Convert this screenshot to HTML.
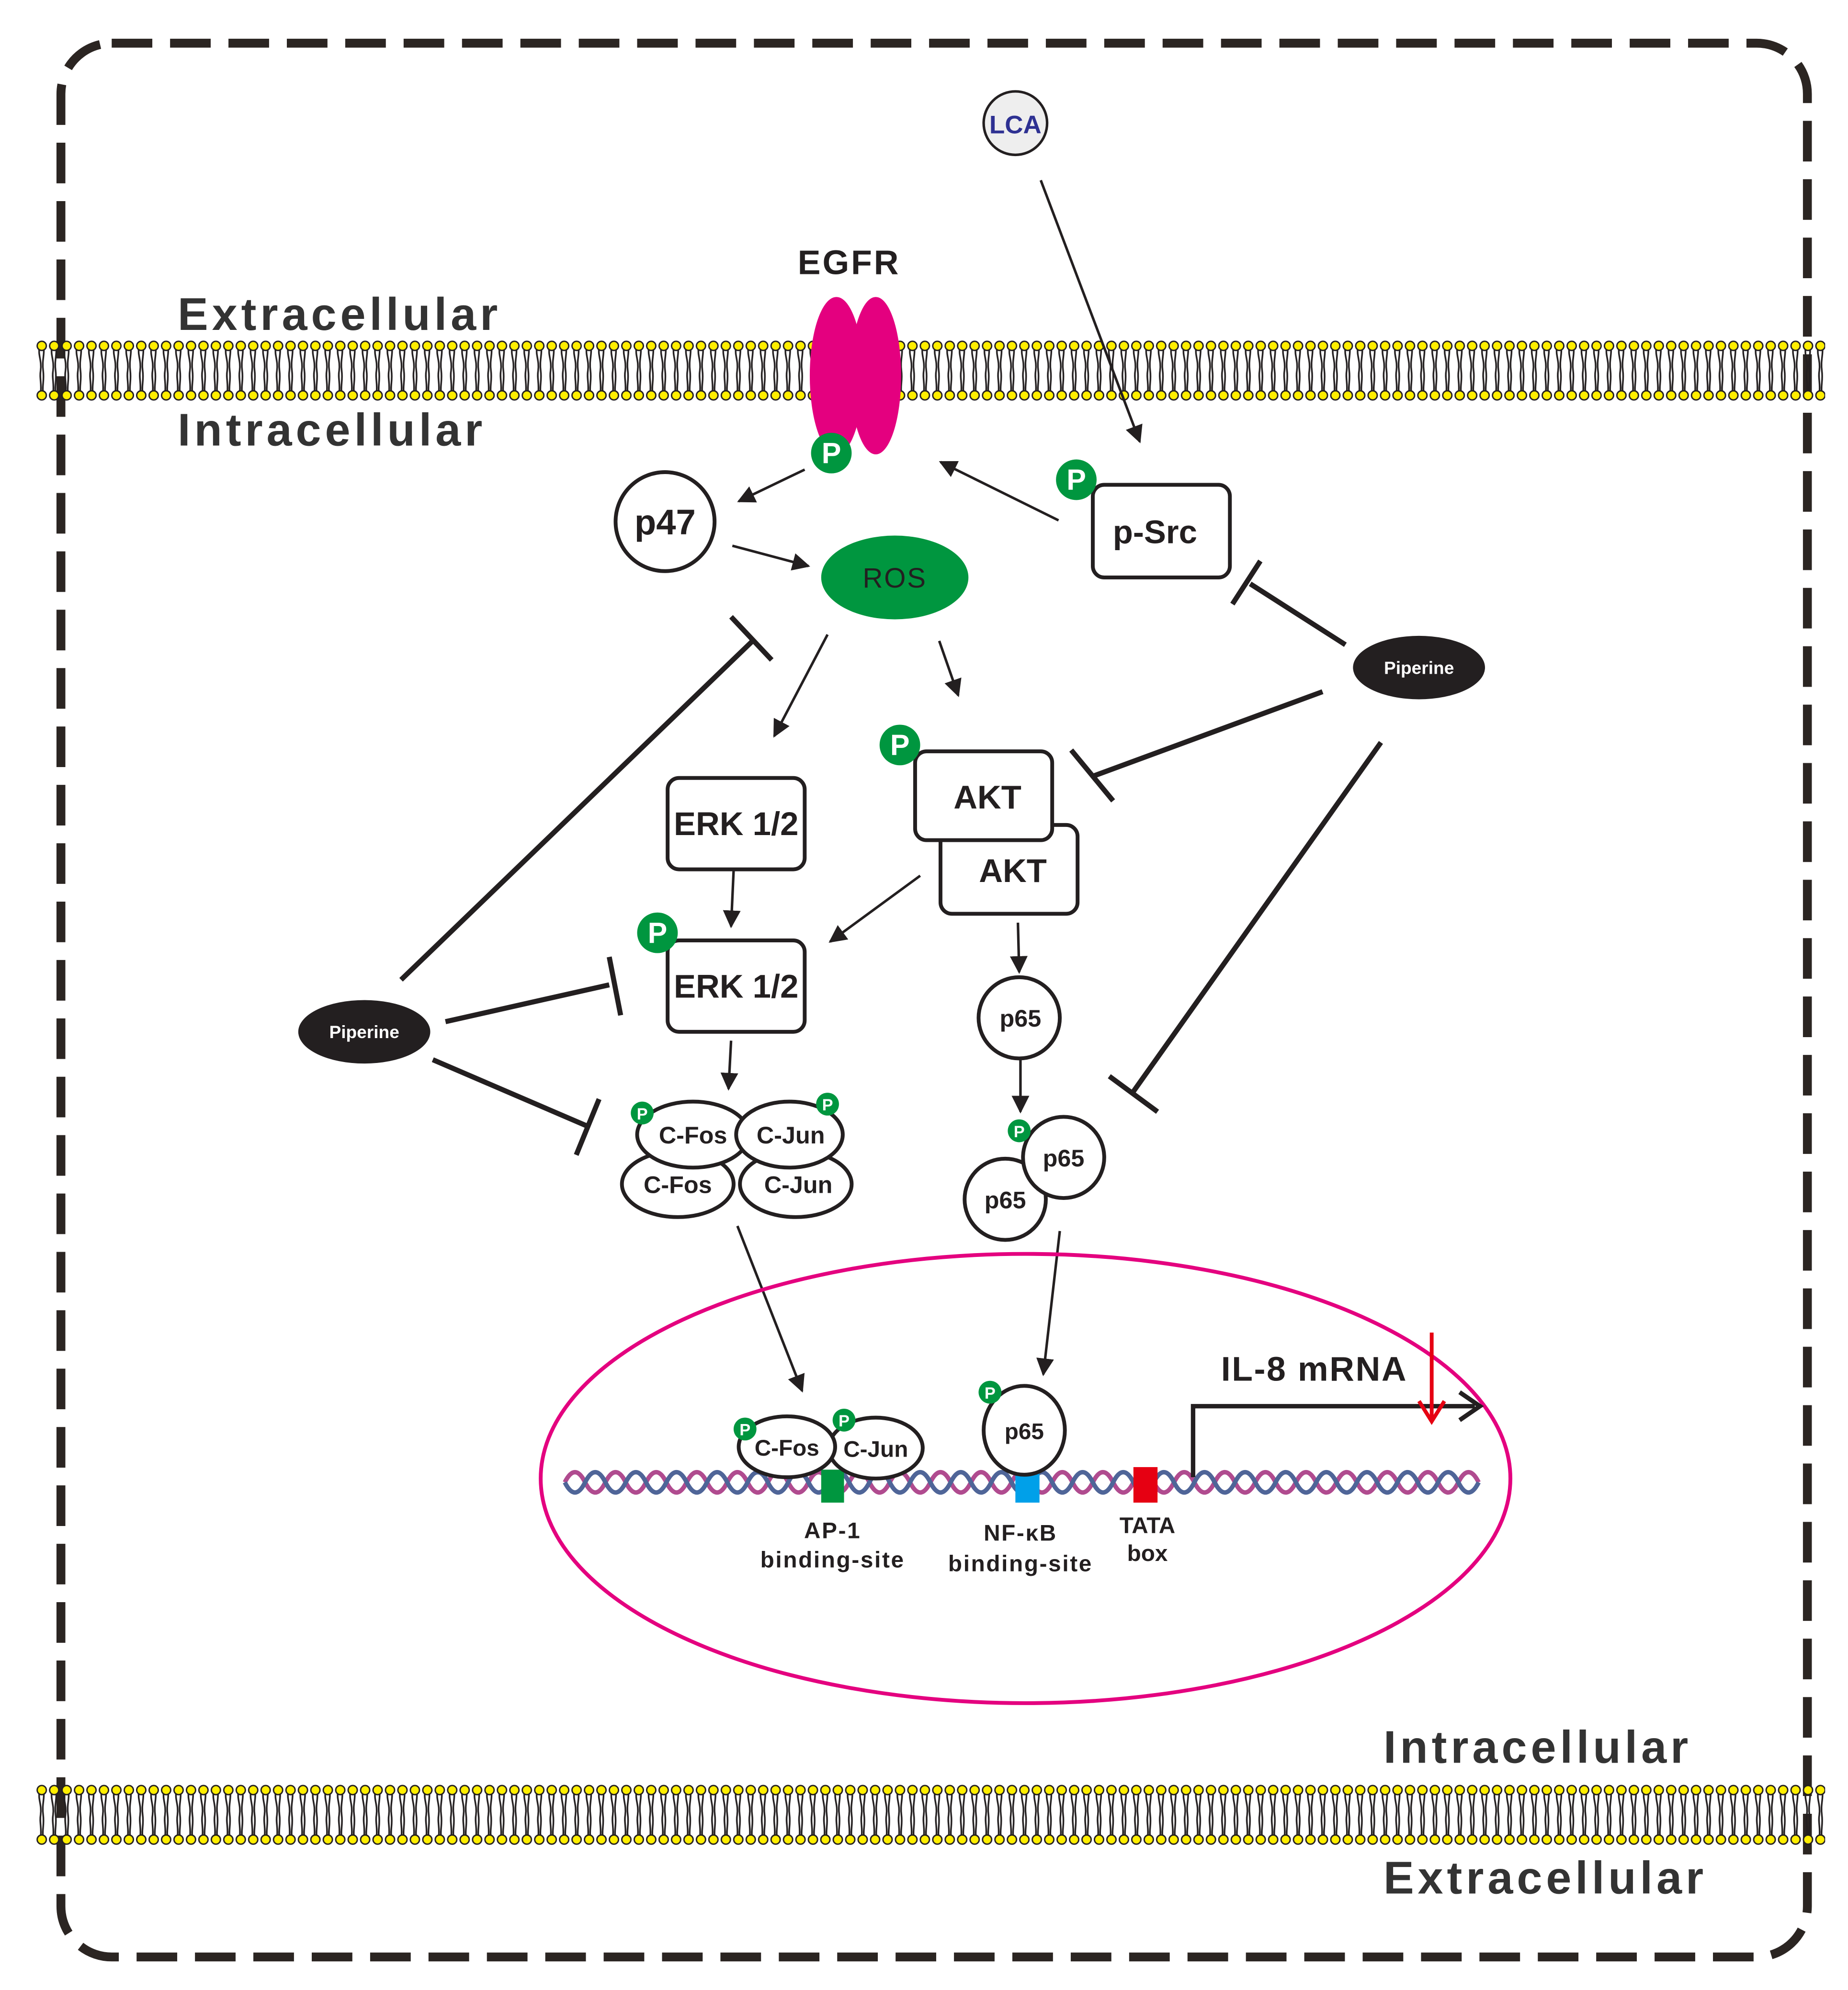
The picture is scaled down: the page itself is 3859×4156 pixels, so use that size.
<!DOCTYPE html>
<html><head><meta charset="utf-8"><style>
html,body{margin:0;padding:0;background:#fff}
svg{display:block}
text{font-family:"Liberation Sans",sans-serif}
</style></head><body>
<svg width="3859" height="4156" viewBox="0 0 1456 1568" xmlns="http://www.w3.org/2000/svg">
<defs>
<marker id="ah" viewBox="0 0 10 10" refX="9" refY="5" markerWidth="7" markerHeight="7" orient="auto"><path d="M0,0 L10,5 L0,10 z" fill="#231f20"/></marker>
<pattern id="memTop" x="28" y="262" width="9.8" height="60" patternUnits="userSpaceOnUse">
<path d="M3,12 C2,18 5,22 4,30 M6.5,12 C7,18 5,22 6,30 M4,30 C3,36 5,40 4,48 M6,30 C7,38 5,42 6,48" stroke="#231f20" stroke-width="1.3" fill="none"/>
<circle cx="4.9" cy="10.5" r="3.6" fill="#ffee00" stroke="#231f20" stroke-width="1.1"/>
<circle cx="4.9" cy="49.5" r="3.6" fill="#ffee00" stroke="#231f20" stroke-width="1.1"/>
</pattern>
<pattern id="memBot" x="28" y="1400" width="9.8" height="60" patternUnits="userSpaceOnUse">
<path d="M3,12 C2,18 5,22 4,30 M6.5,12 C7,18 5,22 6,30 M4,30 C3,36 5,40 4,48 M6,30 C7,38 5,42 6,48" stroke="#231f20" stroke-width="1.3" fill="none"/>
<circle cx="4.9" cy="10.5" r="3.6" fill="#ffee00" stroke="#231f20" stroke-width="1.1"/>
<circle cx="4.9" cy="49.5" r="3.6" fill="#ffee00" stroke="#231f20" stroke-width="1.1"/>
</pattern>
<g id="P"><circle r="16" fill="#00963f"/><text y="8" text-anchor="middle" font-size="23" font-weight="bold" fill="#fff">P</text></g>
<g id="Ps"><circle r="9" fill="#00963f"/><text y="5" text-anchor="middle" font-size="13" font-weight="bold" fill="#fff">P</text></g>
</defs>

<rect x="48" y="34" width="1376" height="1508" rx="40" fill="none" stroke="#2b2522" stroke-width="7" stroke-dasharray="32 14"/>

<rect x="28" y="262" width="1410" height="60" fill="url(#memTop)"/>
<rect x="28" y="1400" width="1410" height="60" fill="url(#memBot)"/>

<g font-weight="bold" fill="#333" font-size="36" letter-spacing="3">
<text x="140" y="260">Extracellular</text>
<text x="140" y="351">Intracellular</text>
<text x="1090" y="1389">Intracellular</text>
<text x="1090" y="1492">Extracellular</text>
</g>

<text x="669" y="216" text-anchor="middle" font-size="27" font-weight="bold" fill="#231f20" letter-spacing="1.5">EGFR</text>
<ellipse cx="659" cy="296" rx="21" ry="62" fill="#e4007f"/>
<ellipse cx="690" cy="296" rx="20" ry="62" fill="#e4007f"/>
<use href="#P" x="655" y="357"/>

<circle cx="800" cy="97" r="25" fill="#eeeeee" stroke="#231f20" stroke-width="2"/>
<text x="800" y="105" text-anchor="middle" font-size="20" font-weight="bold" fill="#2e3192">LCA</text>
<line x1="820" y1="142" x2="898" y2="348" stroke="#231f20" stroke-width="2" marker-end="url(#ah)"/>

<g stroke="#231f20" fill="none" stroke-width="3">
<circle cx="524" cy="411" r="39"/>
<rect x="861" y="382" width="108" height="73" rx="9"/>
<rect x="526" y="613" width="108" height="72" rx="9"/>
<rect x="526" y="741" width="108" height="72" rx="9"/>
<rect x="741" y="650" width="108" height="70" rx="9" fill="#fff"/>
<rect x="721" y="592" width="108" height="70" rx="9" fill="#fff"/>
<circle cx="803" cy="802" r="32"/>
<circle cx="792" cy="945" r="32" fill="#fff"/>
<circle cx="838" cy="912" r="32" fill="#fff"/>
<ellipse cx="627" cy="933" rx="44" ry="26" fill="#fff"/>
<ellipse cx="534" cy="933" rx="44" ry="26" fill="#fff"/>
<ellipse cx="546" cy="894" rx="44" ry="26" fill="#fff"/>
<ellipse cx="622" cy="894" rx="42" ry="26" fill="#fff"/>
</g>
<g font-weight="bold" fill="#231f20" text-anchor="middle">
<text x="524" y="421" font-size="28">p47</text>
<text x="910" y="428" font-size="26">p-Src</text>
<text x="580" y="658" font-size="26">ERK 1/2</text>
<text x="580" y="786" font-size="26">ERK 1/2</text>
<text x="798" y="695" font-size="26">AKT</text>
<text x="778" y="637" font-size="26">AKT</text>
<text x="804" y="809" font-size="19">p65</text>
<text x="792" y="952" font-size="19">p65</text>
<text x="838" y="919" font-size="19">p65</text>
<text x="546" y="901" font-size="19">C-Fos</text>
<text x="623" y="901" font-size="19">C-Jun</text>
<text x="534" y="940" font-size="19">C-Fos</text>
<text x="629" y="940" font-size="19">C-Jun</text>
</g>
<use href="#P" x="848" y="378"/>
<use href="#P" x="709" y="587"/>
<use href="#P" x="518" y="735"/>
<use href="#Ps" x="803" y="891"/>
<use href="#Ps" x="506" y="877"/>
<use href="#Ps" x="652" y="870"/>

<ellipse cx="705" cy="455" rx="58" ry="33" fill="#00963f"/>
<text x="705" y="463" text-anchor="middle" font-size="22" fill="#231f20" letter-spacing="1">ROS</text>

<ellipse cx="1118" cy="526" rx="52" ry="25" fill="#231f20"/>
<text x="1118" y="531" text-anchor="middle" font-size="14" font-weight="bold" fill="#fff">Piperine</text>
<ellipse cx="287" cy="813" rx="52" ry="25" fill="#231f20"/>
<text x="287" y="818" text-anchor="middle" font-size="14" font-weight="bold" fill="#fff">Piperine</text>

<g stroke="#231f20" stroke-width="2" fill="none" marker-end="url(#ah)">
<line x1="634" y1="370" x2="582" y2="395"/>
<line x1="577" y1="430" x2="637" y2="446"/>
<line x1="834" y1="410" x2="741" y2="364"/>
<line x1="652" y1="500" x2="610" y2="580"/>
<line x1="740" y1="505" x2="755" y2="548"/>
<line x1="578" y1="686" x2="576" y2="730"/>
<line x1="725" y1="690" x2="654" y2="742"/>
<line x1="576" y1="820" x2="574" y2="858"/>
<line x1="802" y1="727" x2="803" y2="766"/>
<line x1="804" y1="835" x2="804" y2="876"/>
<line x1="581" y1="966" x2="632" y2="1096"/>
<line x1="835" y1="970" x2="822" y2="1083"/>
</g>
<g stroke="#231f20" stroke-width="4" fill="none">
<line x1="1060" y1="508" x2="985" y2="460"/><line x1="971" y1="476" x2="993" y2="442"/>
<line x1="1042" y1="545" x2="860" y2="612"/><line x1="844" y1="591" x2="877" y2="631"/>
<line x1="1088" y1="585" x2="893" y2="860"/><line x1="874" y1="848" x2="912" y2="876"/>
<line x1="316" y1="772" x2="594" y2="504"/><line x1="576" y1="486" x2="608" y2="520"/>
<line x1="351" y1="805" x2="480" y2="776"/><line x1="480" y1="754" x2="489" y2="800"/>
<line x1="341" y1="835" x2="462" y2="887"/><line x1="472" y1="866" x2="454" y2="910"/>
</g>

<ellipse cx="808" cy="1165" rx="382" ry="177" fill="none" stroke="#e4007f" stroke-width="3"/>

<g fill="none" stroke-width="3.5">
<path stroke="#b04b8f" d="M445,1168 q8,-16 16,0 t16,0 t16,0 t16,0 t16,0 t16,0 t16,0 t16,0 t16,0 t16,0 t16,0 t16,0 t16,0 t16,0 t16,0 t16,0 t16,0 t16,0 t16,0 t16,0 t16,0 t16,0 t16,0 t16,0 t16,0 t16,0 t16,0 t16,0 t16,0 t16,0 t16,0 t16,0 t16,0 t16,0 t16,0 t16,0 t16,0 t16,0 t16,0 t16,0 t16,0 t16,0 t16,0 t16,0 t16,0"/>
<path stroke="#4f6598" d="M445,1168 q8,16 16,0 t16,0 t16,0 t16,0 t16,0 t16,0 t16,0 t16,0 t16,0 t16,0 t16,0 t16,0 t16,0 t16,0 t16,0 t16,0 t16,0 t16,0 t16,0 t16,0 t16,0 t16,0 t16,0 t16,0 t16,0 t16,0 t16,0 t16,0 t16,0 t16,0 t16,0 t16,0 t16,0 t16,0 t16,0 t16,0 t16,0 t16,0 t16,0 t16,0 t16,0 t16,0 t16,0 t16,0 t16,0"/>
</g>
<rect x="647" y="1158" width="18" height="26" fill="#00963f"/>
<rect x="800" y="1158" width="19" height="26" fill="#00a0e9"/>
<rect x="893" y="1156" width="19" height="28" fill="#e60012"/>

<g stroke="#231f20" stroke-width="3" fill="#fff">
<ellipse cx="690" cy="1141" rx="37" ry="24"/>
<ellipse cx="620" cy="1140" rx="38" ry="24"/>
<ellipse cx="807" cy="1127" rx="32" ry="35"/>
</g>
<g font-weight="bold" fill="#231f20" text-anchor="middle" font-size="18">
<text x="620" y="1147">C-Fos</text>
<text x="690" y="1148">C-Jun</text>
<text x="807" y="1134">p65</text>
<text x="656" y="1212" letter-spacing="1">AP-1</text>
<text x="656" y="1235" letter-spacing="1">binding-site</text>
<text x="804" y="1214" letter-spacing="1">NF-κB</text>
<text x="804" y="1238" letter-spacing="1">binding-site</text>
<text x="904" y="1208">TATA</text>
<text x="904" y="1230">box</text>
</g>
<use href="#Ps" x="587" y="1126"/>
<use href="#Ps" x="665" y="1119"/>
<use href="#Ps" x="780" y="1097"/>

<path d="M940,1164 V1108 H1162" fill="none" stroke="#231f20" stroke-width="3.5"/>
<path d="M1150,1097 L1166,1108 L1150,1119" fill="none" stroke="#231f20" stroke-width="3.5"/>
<text x="962" y="1088" font-size="27" font-weight="bold" fill="#231f20" letter-spacing="1">IL-8 mRNA</text>
<line x1="1128" y1="1050" x2="1128" y2="1118" stroke="#e60012" stroke-width="3"/>
<path d="M1118,1104 L1128,1120 L1138,1104" fill="none" stroke="#e60012" stroke-width="3"/>
</svg>
</body></html>
